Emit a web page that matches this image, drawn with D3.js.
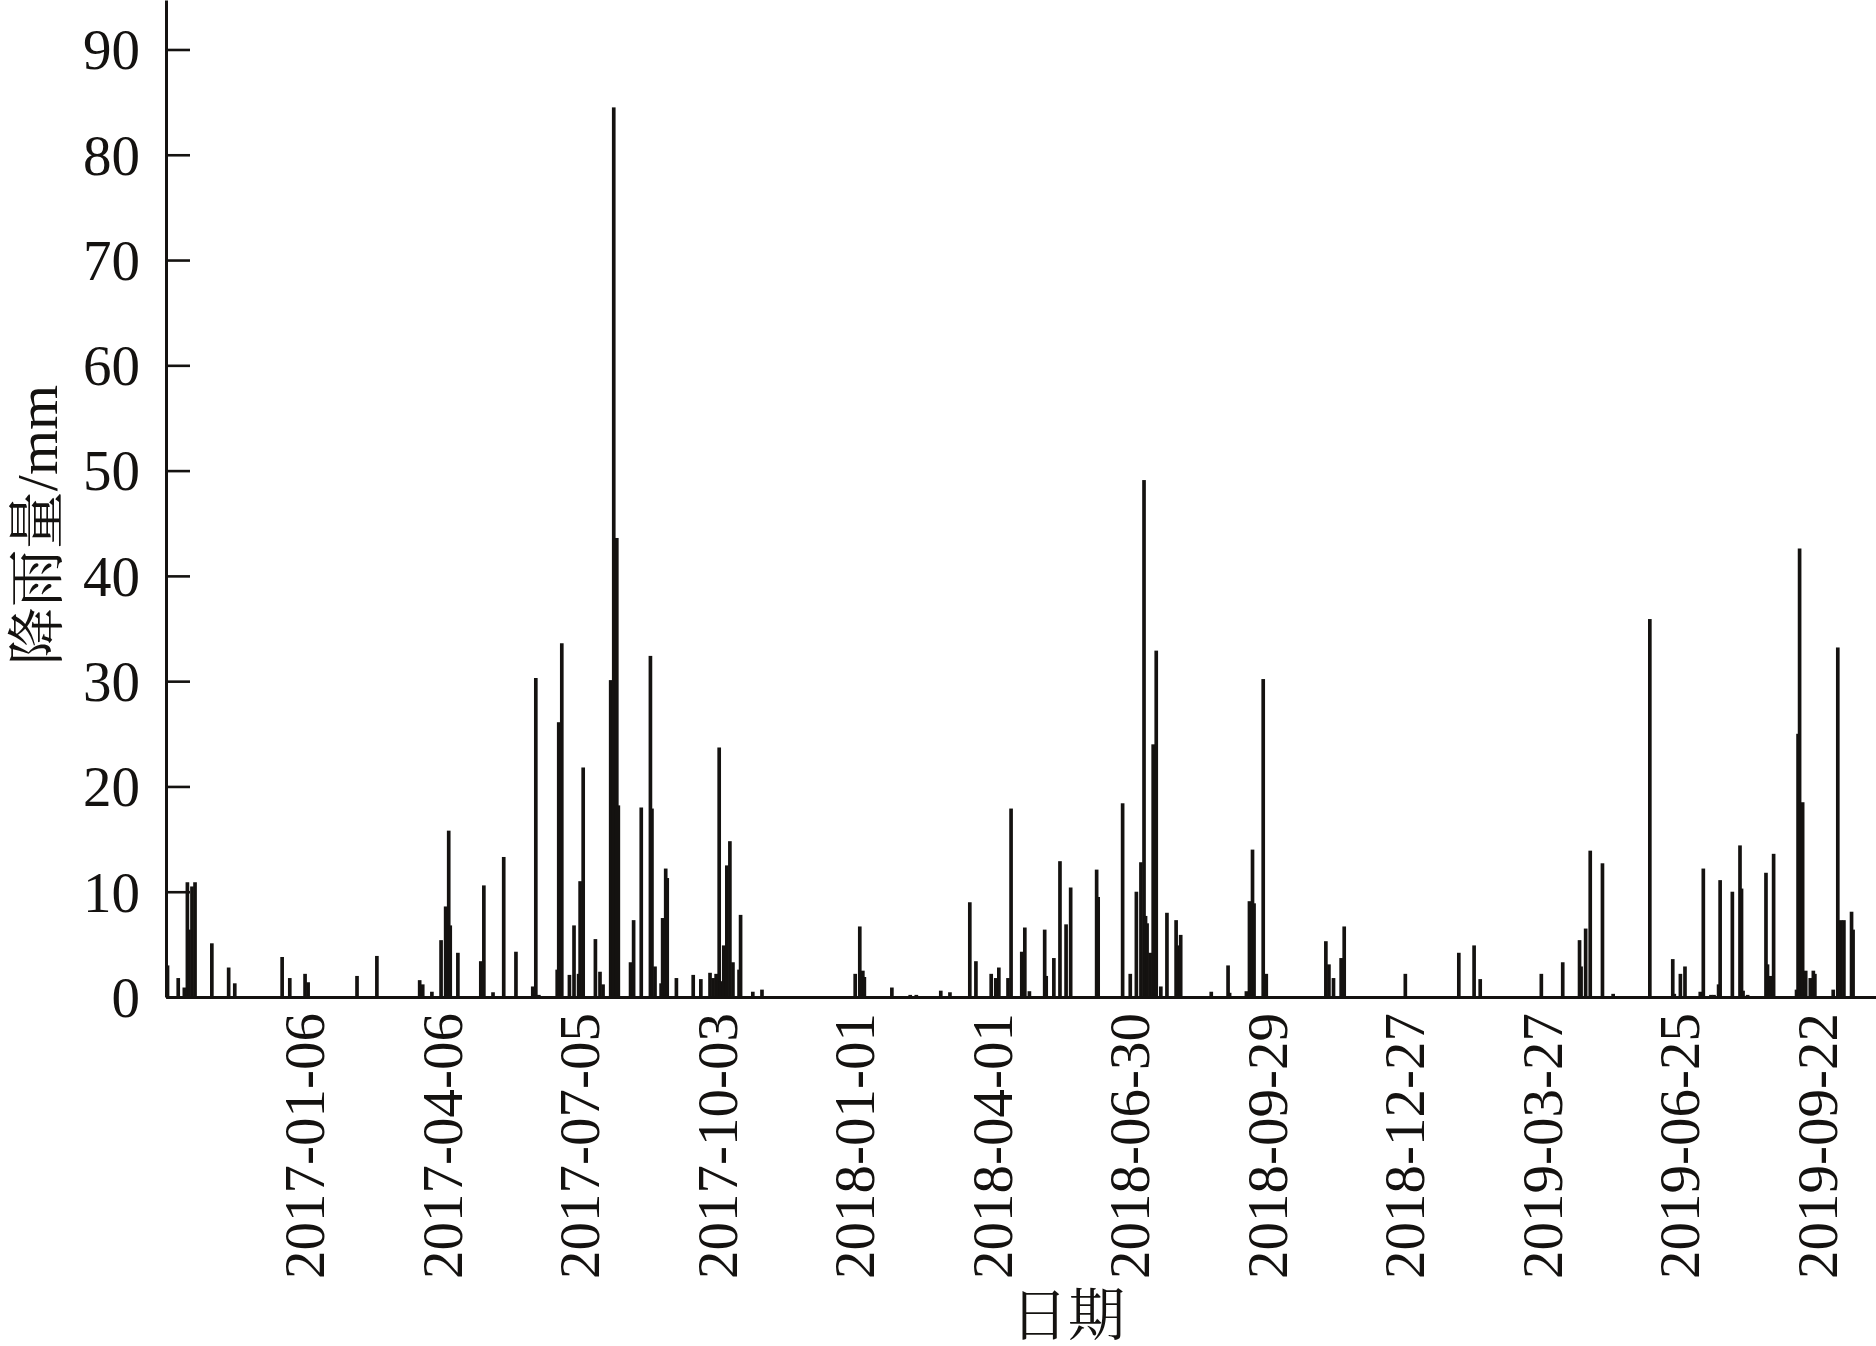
<!DOCTYPE html>
<html><head><meta charset="utf-8">
<script src="https://cdn.jsdelivr.net/npm/d3@7"></script>
<style>body{margin:0;background:#fff}</style>
</head><body>
<svg id="chart" width="1876" height="1346"></svg>
<script>
// Day index (days since first record) of each rainy day, and its rainfall (mm)
const dayIndex = [0,7,11,13,14,16,18,29,40,44,75,80,90,92,124,137,165,167,173,179,182,184,185,190,
205,207,213,220,228,239,241,243,255,256,258,263,266,269,270,272,280,283,285,290,292,294,295,
303,305,310,316,317,319,323,324,326,327,333,344,349,355,357,359,361,362,364,366,368,370,374,375,
383,389,450,453,455,456,474,486,490,506,512,525,529,539,542,544,550,552,559,561,564,
574,575,580,584,588,591,608,609,625,630,634,637,639,640,641,643,645,647,650,654,660,661,663,
683,694,695,706,708,710,711,717,718,719,758,760,763,768,770,810,845,855,859,899,913,924,925,
928,931,939,946,970,985,986,990,993,1003,1005,1010,1012,1015,1016,1024,1029,1030,1031,1034,
1046,1047,1049,1051,1066,1067,1068,1070,1072,1075,1077,1078,1090,1093,1095,1097,1102,1103];
const rainfall = [3.0,1.8,0.9,10.9,6.4,10.5,10.9,5.1,2.8,1.3,3.8,1.8,2.2,1.4,2.0,3.9,1.6,1.2,0.5,5.4,8.6,15.8,6.8,4.2,
3.4,10.6,0.45,13.3,4.3,1.0,30.3,0.2,2.6,26.1,33.6,2.1,6.8,2.2,11.0,21.8,5.5,2.4,1.2,30.1,84.5,43.6,18.2,
3.3,7.3,18.0,32.4,17.9,2.9,1.3,7.5,12.2,11.3,1.8,2.1,1.7,2.3,1.8,2.2,23.7,1.5,4.9,12.5,14.8,3.3,2.6,7.8,
0.5,0.7,2.2,6.7,2.5,1.9,0.9,0.2,0.2,0.6,0.45,9.0,3.4,2.2,1.8,2.8,1.8,17.9,4.3,6.6,0.55,
6.4,2.0,3.7,12.9,6.9,10.4,12.1,9.5,18.4,2.2,10.0,12.8,49.1,7.7,7.0,4.2,24.0,32.9,1.0,8.0,7.3,4.9,5.9,
0.5,3.0,0.4,0.55,9.1,14.0,8.9,30.2,1.0,2.2,5.3,3.1,1.8,3.7,6.7,2.2,4.2,4.9,1.7,2.2,3.3,5.4,2.9,
6.5,13.9,12.7,0.3,35.9,3.6,0.3,2.2,2.9,0.5,12.2,0.2,0.2,1.2,11.1,10.0,14.4,10.3,0.6,0.2,
11.8,3.1,2.0,13.6,0.7,25.0,42.6,18.5,2.5,1.8,2.5,2.2,0.7,33.2,7.3,7.3,8.1,6.4];
const tickLabels = ["2017-01-06","2017-04-06","2017-07-05","2017-10-03","2018-01-01","2018-04-01",
"2018-06-30","2018-09-29","2018-12-27","2019-03-27","2019-06-25","2019-09-22"];
const tickIndex = tickLabels.map((d, k) => 89 + 90 * k);
const yTicks = [0,10,20,30,40,50,60,70,80,90];
const yLabel = "降雨量/mm";
const xLabel = "日期";

const svg = d3.select("#chart");
const ink = "#141210";
const latinFont = "'Liberation Serif','Times New Roman','Noto Serif CJK SC','Noto Sans CJK SC',serif";

const x = d3.scaleLinear().domain([-1, 1118]).range([166, 1876]);
const y = d3.scaleLinear().domain([0, 94.7]).range([997, 0]);
const barW = (x(1) - x(0)) * 2.4;

const data = dayIndex.map((d, i) => ({d, v: rainfall[i]}));

svg.append("g").selectAll("rect").data(data).join("rect")
  .attr("x", p => x(p.d) - barW / 2)
  .attr("y", p => y(p.v))
  .attr("width", barW)
  .attr("height", p => y(0) - y(p.v))
  .attr("fill", ink);

// Y axis
const gy = svg.append("g").attr("transform", `translate(${x(-1)},0)`)
  .call(d3.axisLeft(y).tickValues(yTicks).tickSizeInner(-24).tickSizeOuter(0).tickPadding(26).tickFormat(d3.format("d")));
gy.select(".domain").attr("stroke", ink).attr("stroke-width", 3);
gy.selectAll(".tick line").attr("stroke", ink).attr("stroke-width", 2.6);
gy.selectAll(".tick text").attr("font-family", latinFont).attr("font-size", 57).attr("fill", ink).attr("dy", "0.34em");

// X axis
const gx = svg.append("g").attr("transform", `translate(0,${y(0)})`)
  .call(d3.axisBottom(x).tickValues(tickIndex).tickSize(0).tickFormat((d, i) => tickLabels[i]));
gx.select(".domain").attr("stroke", ink).attr("stroke-width", 3);
gx.selectAll(".tick text")
  .attr("font-family", latinFont).attr("font-size", 57).attr("fill", ink)
  .attr("text-anchor", "end")
  .attr("transform", "rotate(-90)")
  .attr("x", -16).attr("y", 0).attr("dy", "0.35em");

// Axis titles
svg.append("text")
  .attr("transform", "translate(37,525) rotate(-90)")
  .attr("text-anchor", "middle").attr("dy", "0.35em")
  .attr("font-family", latinFont).attr("font-size", 58).attr("fill", ink)
  .text(yLabel);
svg.append("text")
  .attr("x", 1068).attr("y", 1315)
  .attr("text-anchor", "middle").attr("dy", "0.35em")
  .attr("font-family", latinFont).attr("font-size", 57).attr("fill", ink)
  .text(xLabel);
</script>
</body></html>
